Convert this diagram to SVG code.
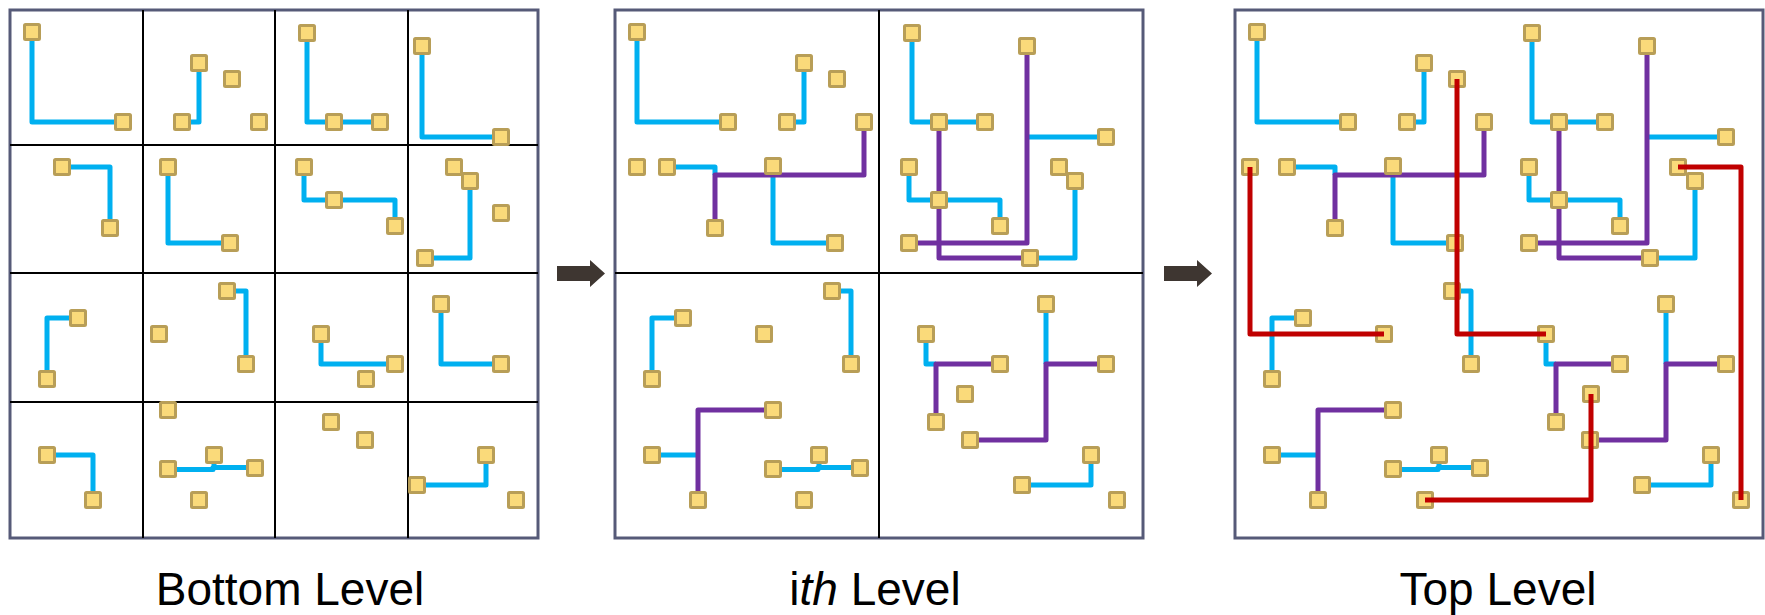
<svg xmlns="http://www.w3.org/2000/svg" width="1765" height="615" viewBox="0 0 1765 615">
  <style>
    .frame { fill: #ffffff; stroke: #565a78; stroke-width: 3; }
    .grid { stroke: #000000; stroke-width: 2; fill: none; }
    .w { fill: none; stroke-width: 5; stroke-linejoin: round; stroke-linecap: butt; }
    .blue { stroke: #00b0f0; }
    .purple { stroke: #7030a0; }
    .red { stroke: #c00000; }
    .pin { fill: #fada7a; stroke: #b89e57; stroke-width: 3; }
    .label { font-family: "Liberation Sans", Arial, sans-serif; font-size: 46px; fill: #000000; }
    .arrow { fill: #3e3631; }
  </style>
  <defs>
    <rect id="p" class="pin" x="-7.5" y="-7.5" width="15" height="15" rx="1"/>
  </defs>

  <!-- Bottom level: 4x4 tiles, local routing only -->
  <g id="panel-bottom">
    <rect class="frame" x="10" y="10" width="528" height="528"/>
    <path class="grid" d="M143,10 V538 M275,10 V538 M408,10 V538 M10,145 H538 M10,273 H538 M10,402 H538"/>
    <g id="bottom-wires" class="w blue">
      <path d="M32,32 V122 H123"/>
      <path d="M199,63 V122 H182"/>
      <path d="M62,167 H110 V228"/>
      <path d="M168,167 V243 H230"/>
      <path d="M307,33 V122 H380"/>
      <path d="M422,46 V137 H501"/>
      <path d="M304,167 V200 H395 V226"/>
      <path d="M470,181 V258 H425"/>
      <path d="M78,318 H47 V379"/>
      <path d="M227,291 H246 V364"/>
      <path d="M47,455 H93 V500"/>
      <path d="M168,469.5 H213 V467.5 H255 M214,455 V468"/>
      <path d="M321,334 V364 H395"/>
      <path d="M441,304 V364 H501"/>
      <path d="M417,485 H486 V455"/>
    </g>
    <g id="bottom-pins">
      <use href="#p" x="32" y="32"/><use href="#p" x="123" y="122"/><use href="#p" x="199" y="63"/>
      <use href="#p" x="232" y="79"/><use href="#p" x="182" y="122"/><use href="#p" x="259" y="122"/>
      <use href="#p" x="62" y="167"/><use href="#p" x="110" y="228"/><use href="#p" x="168" y="167"/>
      <use href="#p" x="230" y="243"/>
      <use href="#p" x="307" y="33"/><use href="#p" x="334" y="122"/><use href="#p" x="380" y="122"/>
      <use href="#p" x="422" y="46"/><use href="#p" x="501" y="137"/><use href="#p" x="304" y="167"/>
      <use href="#p" x="334" y="200"/><use href="#p" x="395" y="226"/><use href="#p" x="454" y="167"/>
      <use href="#p" x="470" y="181"/><use href="#p" x="501" y="213"/><use href="#p" x="425" y="258"/>
      <use href="#p" x="78" y="318"/><use href="#p" x="47" y="379"/><use href="#p" x="159" y="334"/>
      <use href="#p" x="227" y="291"/><use href="#p" x="246" y="364"/><use href="#p" x="168" y="410"/>
      <use href="#p" x="47" y="455"/><use href="#p" x="93" y="500"/><use href="#p" x="214" y="455"/>
      <use href="#p" x="168" y="469"/><use href="#p" x="255" y="468"/><use href="#p" x="199" y="500"/>
      <use href="#p" x="321" y="334"/><use href="#p" x="395" y="364"/><use href="#p" x="366" y="379"/>
      <use href="#p" x="441" y="304"/><use href="#p" x="501" y="364"/><use href="#p" x="331" y="422"/>
      <use href="#p" x="365" y="440"/><use href="#p" x="486" y="455"/><use href="#p" x="417" y="485"/>
      <use href="#p" x="516" y="500"/>
    </g>
  </g>

  <!-- i-th level: 2x2 tiles, blue + purple routing -->
  <g id="panel-ith" transform="translate(605,0)">
    <rect class="frame" x="10" y="10" width="528" height="528"/>
    <path class="grid" d="M274,10 V538 M10,273 H538"/>
    <g id="ith-wires-blue" class="w blue">
      <path d="M32,32 V122 H123"/>
      <path d="M199,63 V122 H182"/>
      <path d="M62,167 H110 V175"/>
      <path d="M168,166 V243 H230"/>
      <path d="M307,33 V122 H380"/>
      <path d="M422,137 H501"/>
      <path d="M304,167 V200 H395 V226"/>
      <path d="M470,181 V258 H425"/>
      <path d="M78,318 H47 V379"/>
      <path d="M227,291 H246 V364"/>
      <path d="M47,455 H93"/>
      <path d="M168,469.5 H213 V467.5 H255 M214,455 V468"/>
      <path d="M321,334 V364 H331"/>
      <path d="M441,304 V364"/>
      <path d="M417,485 H486 V455"/>
    </g>
    <g id="ith-wires-purple" class="w purple">
      <path d="M259,122 V175 H110 V228"/>
      <path d="M334,122 V258 H425"/>
      <path d="M422,46 V243 H304"/>
      <path d="M168,410 H93 V500"/>
      <path d="M395,364 H331 V422"/>
      <path d="M365,440 H441 V364 H501"/>
    </g>
    <g id="ith-pins">
      <use href="#p" x="32" y="32"/><use href="#p" x="123" y="122"/><use href="#p" x="199" y="63"/>
      <use href="#p" x="232" y="79"/><use href="#p" x="182" y="122"/><use href="#p" x="259" y="122"/>
      <use href="#p" x="32" y="167"/><use href="#p" x="62" y="167"/><use href="#p" x="110" y="228"/>
      <use href="#p" x="168" y="166"/><use href="#p" x="230" y="243"/>
      <use href="#p" x="307" y="33"/><use href="#p" x="334" y="122"/><use href="#p" x="380" y="122"/>
      <use href="#p" x="422" y="46"/><use href="#p" x="501" y="137"/><use href="#p" x="304" y="167"/>
      <use href="#p" x="334" y="200"/><use href="#p" x="395" y="226"/><use href="#p" x="454" y="167"/>
      <use href="#p" x="470" y="181"/><use href="#p" x="425" y="258"/><use href="#p" x="304" y="243"/>
      <use href="#p" x="78" y="318"/><use href="#p" x="47" y="379"/><use href="#p" x="159" y="334"/>
      <use href="#p" x="227" y="291"/><use href="#p" x="246" y="364"/><use href="#p" x="168" y="410"/>
      <use href="#p" x="47" y="455"/><use href="#p" x="93" y="500"/><use href="#p" x="214" y="455"/>
      <use href="#p" x="168" y="469"/><use href="#p" x="255" y="468"/><use href="#p" x="199" y="500"/>
      <use href="#p" x="321" y="334"/><use href="#p" x="395" y="364"/><use href="#p" x="360" y="394"/>
      <use href="#p" x="441" y="304"/><use href="#p" x="501" y="364"/><use href="#p" x="331" y="422"/>
      <use href="#p" x="365" y="440"/><use href="#p" x="486" y="455"/><use href="#p" x="417" y="485"/>
      <use href="#p" x="512" y="500"/>
    </g>
  </g>

  <!-- Top level: whole die, blue + purple + red routing -->
  <g id="panel-top" transform="translate(1225,0)">
    <rect class="frame" x="10" y="10" width="528" height="528"/>
    <g id="top-wires-blue" class="w blue">
      <path d="M32,32 V122 H123"/>
      <path d="M199,63 V122 H182"/>
      <path d="M62,167 H110 V175"/>
      <path d="M168,166 V243 H230"/>
      <path d="M307,33 V122 H380"/>
      <path d="M422,137 H501"/>
      <path d="M304,167 V200 H395 V226"/>
      <path d="M470,181 V258 H425"/>
      <path d="M78,318 H47 V379"/>
      <path d="M227,291 H246 V364"/>
      <path d="M47,455 H93"/>
      <path d="M168,469.5 H213 V467.5 H255 M214,455 V468"/>
      <path d="M321,334 V364 H331"/>
      <path d="M441,304 V364"/>
      <path d="M417,485 H486 V455"/>
    </g>
    <g id="top-wires-purple" class="w purple">
      <path d="M259,122 V175 H110 V228"/>
      <path d="M334,122 V258 H425"/>
      <path d="M422,46 V243 H304"/>
      <path d="M168,410 H93 V500"/>
      <path d="M395,364 H331 V422"/>
      <path d="M365,440 H441 V364 H501"/>
    </g>
    <g id="top-pins">
      <use href="#p" x="32" y="32"/><use href="#p" x="123" y="122"/><use href="#p" x="199" y="63"/>
      <use href="#p" x="232" y="79"/><use href="#p" x="182" y="122"/><use href="#p" x="259" y="122"/>
      <use href="#p" x="25" y="167"/><use href="#p" x="62" y="167"/><use href="#p" x="110" y="228"/>
      <use href="#p" x="168" y="166"/><use href="#p" x="230" y="243"/>
      <use href="#p" x="307" y="33"/><use href="#p" x="334" y="122"/><use href="#p" x="380" y="122"/>
      <use href="#p" x="422" y="46"/><use href="#p" x="501" y="137"/><use href="#p" x="453" y="167"/>
      <use href="#p" x="304" y="167"/><use href="#p" x="334" y="200"/><use href="#p" x="395" y="226"/>
      <use href="#p" x="470" y="181"/><use href="#p" x="425" y="258"/><use href="#p" x="304" y="243"/>
      <use href="#p" x="78" y="318"/><use href="#p" x="47" y="379"/><use href="#p" x="159" y="334"/>
      <use href="#p" x="227" y="291"/><use href="#p" x="246" y="364"/><use href="#p" x="168" y="410"/>
      <use href="#p" x="47" y="455"/><use href="#p" x="93" y="500"/><use href="#p" x="214" y="455"/>
      <use href="#p" x="168" y="469"/><use href="#p" x="255" y="468"/><use href="#p" x="200" y="500"/>
      <use href="#p" x="321" y="334"/><use href="#p" x="395" y="364"/><use href="#p" x="366" y="394"/>
      <use href="#p" x="441" y="304"/><use href="#p" x="501" y="364"/><use href="#p" x="331" y="422"/>
      <use href="#p" x="365" y="440"/><use href="#p" x="486" y="455"/><use href="#p" x="417" y="485"/>
      <use href="#p" x="516" y="500"/>
    </g>
    <g id="top-wires-red" class="w red">
      <path d="M232,79 V334 H321"/>
      <path d="M25,167 V334 H159"/>
      <path d="M453,167 H516 V500"/>
      <path d="M200,500 H366 V394"/>
    </g>
  </g>

  <!-- Level-to-level arrows -->
  <g id="connectors">
    <path class="arrow" d="M557,266 H590 V260 L605,273.5 L590,287 V281 H557 Z"/>
    <path class="arrow" d="M1164,266 H1197 V260 L1212,273.5 L1197,287 V281 H1164 Z"/>
  </g>

  <g id="labels">
    <text class="label" x="290" y="605" text-anchor="middle">Bottom Level</text>
    <text class="label" x="875" y="605" text-anchor="middle">i<tspan font-style="italic">th</tspan> Level</text>
    <text class="label" x="1498" y="605" text-anchor="middle">Top Level</text>
  </g>
</svg>
